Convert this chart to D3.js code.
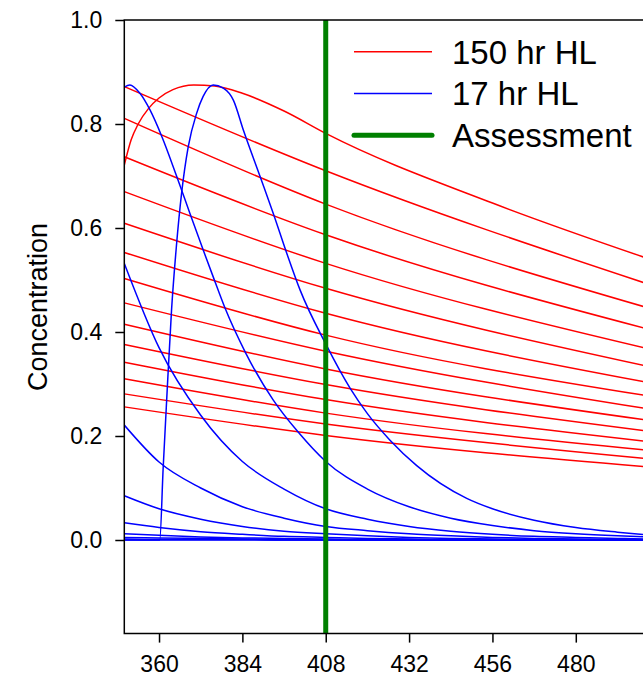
<!DOCTYPE html>
<html>
<head>
<meta charset="utf-8">
<script src="https://cdn.jsdelivr.net/npm/d3@7"></script>
<style>
  html, body { margin: 0; padding: 0; background: #fff; }
  svg { display: block; font-family: "Liberation Sans", Arial, sans-serif; }
</style>
</head>
<body>
<svg id="chart" width="643" height="676"></svg>
<script>
// ---------------- data ----------------
const xTicks = [360, 384, 408, 432, 456, 480];
const yTicks = [0.0, 0.2, 0.4, 0.6, 0.8, 1.0];
const assessmentTime = 408;

// straight-ish red decays (150 hr HL series), sampled at redX
const redX = [350, 408, 500];
const redLines = [
  [0.872, 0.710, 0.494],
  [0.811, 0.646, 0.448],
  [0.737, 0.587, 0.407],
  [0.670, 0.532, 0.369],
  [0.609, 0.484, 0.335],
  [0.553, 0.436, 0.304],
  [0.503, 0.394, 0.278],
  [0.456, 0.363, 0.253],
  [0.415, 0.329, 0.231],
  [0.376, 0.299, 0.210],
  [0.342, 0.270, 0.190],
  [0.310, 0.244, 0.173],
  [0.281, 0.223, 0.157],
  [0.256, 0.201, 0.141]
];
// red curve still rising at the left edge
const redRiseX = [350, 352, 354, 357, 360, 364, 370, 376, 384, 396, 408, 456, 500];
const redRiseY = [0.721, 0.770, 0.800, 0.830, 0.850, 0.866, 0.875, 0.873, 0.859, 0.825, 0.782, 0.648, 0.543];

// blue (17 hr HL) curve peaking just after the left edge
const blueFirstX = [350, 351.6, 354.5, 357.4, 360.8, 365.1, 368.9, 372.7, 375.6, 379, 385, 392.9, 400, 408, 420, 432, 444, 456, 468, 480, 492, 500];
const blueFirstY = [0.871, 0.875, 0.859, 0.827, 0.776, 0.699, 0.628, 0.558, 0.506, 0.446, 0.359, 0.269, 0.208, 0.151, 0.098, 0.064, 0.042, 0.028, 0.018, 0.012, 0.008, 0.006];

// blue curve of the dose given at 360
const blueDoseX = [350, 360.2, 361.2, 362.2, 363.6, 365, 366.5, 368.4, 370.8, 372.7, 375.6, 378.5, 381.4, 384.3, 389.1, 392.9, 396.8, 400.6, 408, 415, 420, 426.5, 434.2, 448.6, 456, 468, 480, 492, 500];
const blueDoseY = [0, 0, 0.140, 0.269, 0.442, 0.565, 0.667, 0.756, 0.820, 0.853, 0.875, 0.869, 0.846, 0.788, 0.699, 0.628, 0.551, 0.481, 0.377, 0.292, 0.243, 0.192, 0.143, 0.080, 0.060, 0.038, 0.024, 0.015, 0.010];

// older blue decays, sampled at blueX
const blueX = [350, 360, 372, 384, 396, 408, 420, 432, 444, 456, 468, 480, 492, 500];
const blueLines = [
  [0.532, 0.370, 0.240, 0.151, 0.098, 0.060, 0.040, 0.026, 0.017, 0.011, 0.007, 0.005, 0.003, 0.002],
  [0.221, 0.150, 0.100, 0.064, 0.042, 0.026, 0.018, 0.012, 0.008, 0.005, 0.003, 0.002, 0.001, 0.001],
  [0.085, 0.060, 0.040, 0.026, 0.017, 0.012, 0.008, 0.005, 0.003, 0.002, 0.001, 0.001, 0.001, 0.000],
  [0.033, 0.024, 0.016, 0.011, 0.007, 0.005, 0.003, 0.002, 0.001, 0.001, 0.001, 0.000, 0.000, 0.000],
  [0.012, 0.009, 0.006, 0.004, 0.003, 0.002, 0.001, 0.001, 0.000, 0.000, 0.000, 0.000, 0.000, 0.000],
  [0.005, 0.004, 0.003, 0.002, 0.001, 0.001, 0.000, 0.000, 0.000, 0.000, 0.000, 0.000, 0.000, 0.000],
  [0.002, 0.001, 0.001, 0.001, 0.000, 0.000, 0.000, 0.000, 0.000, 0.000, 0.000, 0.000, 0.000, 0.000],
  [0.000, 0.000, 0.000, 0.000, 0.000, 0.000, 0.000, 0.000, 0.000, 0.000, 0.000, 0.000, 0.000, 0.000]
];

const legendLabels = ["150 hr HL", "17 hr HL", "Assessment"];
const legendColors = ["#ff0000", "#0000ff", "#008000"];

// ---------------- layout ----------------
(function () {
  const svg = d3.select("#chart");
  const pLeft = 124.3, pTop = 20, pBottom = 633.6;
  const x = d3.scaleLinear().domain([350, 504]).range([pLeft, pLeft + 154 * 3.473]);
  const y = d3.scaleLinear().domain([-0.18, 1.0]).range([pBottom, pTop]);
  const pRight = x(504);

  svg.append("defs").append("clipPath").attr("id", "plotclip")
    .append("rect").attr("x", pLeft).attr("y", pTop).attr("width", pRight - pLeft).attr("height", pBottom - pTop);

  const plot = svg.append("g").attr("clip-path", "url(#plotclip)");
  const line = d3.line().x(d => x(d[0])).y(d => y(d[1])).curve(d3.curveMonotoneX);

  redLines.forEach(vals => {
    plot.append("path").datum(redX.map((t, i) => [t, vals[i]]))
      .attr("d", line).attr("fill", "none").attr("stroke", "#ff0000").attr("stroke-width", 1.5);
  });
  plot.append("path").datum(redRiseX.map((t, i) => [t, redRiseY[i]]))
    .attr("d", line).attr("fill", "none").attr("stroke", "#ff0000").attr("stroke-width", 1.5);

  blueLines.forEach(vals => {
    plot.append("path").datum(blueX.map((t, i) => [t, vals[i]]))
      .attr("d", line).attr("fill", "none").attr("stroke", "#0000ff").attr("stroke-width", 1.5);
  });
  plot.append("path").datum(blueFirstX.map((t, i) => [t, blueFirstY[i]]))
    .attr("d", line).attr("fill", "none").attr("stroke", "#0000ff").attr("stroke-width", 1.5);
  plot.append("path").datum(blueDoseX.map((t, i) => [t, blueDoseY[i]]))
    .attr("d", line).attr("fill", "none").attr("stroke", "#0000ff").attr("stroke-width", 1.5);

  plot.append("line")
    .attr("x1", x(assessmentTime)).attr("x2", x(assessmentTime))
    .attr("y1", pTop).attr("y2", pBottom)
    .attr("stroke", "#008000").attr("stroke-width", 5);

  const yAxis = d3.axisLeft(y).tickValues(yTicks).tickFormat(d3.format(".1f")).tickSize(9).tickPadding(13);
  const gy = svg.append("g").attr("transform", `translate(${pLeft},0)`).call(yAxis);
  gy.select(".domain").remove();
  gy.selectAll(".tick line").attr("stroke", "#000").attr("stroke-width", 1.5);
  gy.selectAll(".tick text").attr("font-size", 23).attr("fill", "#000")
    .attr("font-family", '"Liberation Sans", Arial, sans-serif');

  const xAxis = d3.axisBottom(x).tickValues(xTicks).tickFormat(d3.format("d")).tickSize(9).tickPadding(13);
  const gx = svg.append("g").attr("transform", `translate(0,${pBottom})`).call(xAxis);
  gx.select(".domain").remove();
  gx.selectAll(".tick line").attr("stroke", "#000").attr("stroke-width", 1.5);
  gx.selectAll(".tick text").attr("font-size", 23).attr("fill", "#000")
    .attr("font-family", '"Liberation Sans", Arial, sans-serif');

  svg.append("path")
    .attr("d", `M${pRight},${pTop}H${pLeft}V${pBottom}H${pRight}`)
    .attr("fill", "none").attr("stroke", "#000").attr("stroke-width", 1.5);

  svg.append("text")
    .attr("transform", `translate(47,307) rotate(-90)`)
    .attr("text-anchor", "middle")
    .attr("font-size", 27)
    .text("Concentration");

  const lg = svg.append("g");
  legendLabels.forEach((label, i) => {
    const cy = 51.7 + i * 41.8;
    lg.append("line").attr("x1", 354).attr("x2", 432).attr("y1", cy).attr("y2", cy)
      .attr("stroke", legendColors[i]).attr("stroke-width", i === 2 ? 5 : 1.5)
      .attr("stroke-linecap", i === 2 ? "round" : "butt");
    lg.append("text").attr("x", 452).attr("y", cy + 11.8).attr("font-size", 33).text(label);
  });
})();
</script>
</body>
</html>
